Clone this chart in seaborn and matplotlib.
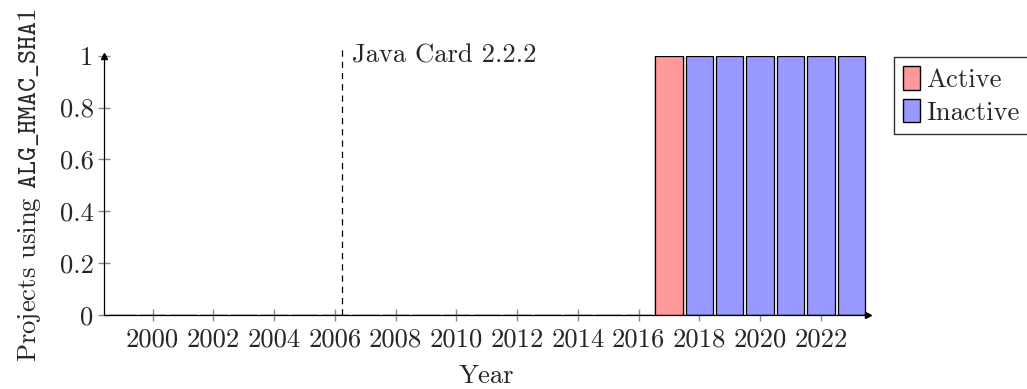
import matplotlib.pyplot as plt
import seaborn as sns
import pandas as pd
from matplotlib.patches import Patch

# Data
years = list(range(1999, 2024))
active = [0] * 18 + [1, 0, 0, 0, 0, 0, 0]
inactive = [0] * 18 + [0, 1, 1, 1, 1, 1, 1]
xticks = list(range(2000, 2024, 2))
release_year = 2006.25
release_label = "Java Card 2.2.2"

df = pd.DataFrame({"year": years, "active": active, "inactive": inactive})
df["total"] = df["active"] + df["inactive"]

sns.set_style("white")
plt.rcParams["font.family"] = "serif"
plt.rcParams["font.serif"] = ["cmr10"]
plt.rcParams["mathtext.fontset"] = "cm"
plt.rcParams["axes.formatter.use_mathtext"] = True

fs = 19.2
red = "#ff9999"
blue = "#9999ff"

fig = plt.figure(figsize=(10.27, 3.89), dpi=100)
ax = fig.add_axes([104 / 1027, 1 - 315 / 389, (868 - 104) / 1027, (315 - 55.7) / 389])

# stacked bars: total (inactive colour) underneath, active drawn over it from the bottom
sns.barplot(data=df, x="year", y="total", native_scale=True, width=0.9, color=blue,
            saturation=1, edgecolor="black", linewidth=0.9, ax=ax, errorbar=None)
sns.barplot(data=df, x="year", y="active", native_scale=True, width=0.9, color=red,
            saturation=1, edgecolor="black", linewidth=0.9, ax=ax, errorbar=None)

ax.set_xlim(1998.4, 2023.55)
ax.set_ylim(0, 1)
ax.set_xticks(xticks)
ax.set_xticklabels([str(t) for t in xticks], fontsize=fs)
ax.set_yticks([0, 0.2, 0.4, 0.6, 0.8, 1])
ax.set_yticklabels(["0", "0.2", "0.4", "0.6", "0.8", "1"], fontsize=fs)
ax.tick_params(bottom=True, left=True, direction="inout", length=9, width=1.0,
               color="#8a8a8a", pad=3)
ax.tick_params(axis="x", pad=5)
for side in ["top", "right"]:
    ax.spines[side].set_visible(False)
for side in ["left", "bottom"]:
    ax.spines[side].set_color("black")
    ax.spines[side].set_linewidth(0.9)
    ax.spines[side].set_zorder(3)

# axis arrows
ax.plot(1, 0, ">k", transform=ax.transAxes, clip_on=False, markersize=5)
ax.plot(0, 1, "^k", transform=ax.transAxes, clip_on=False, markersize=5)

ax.set_xlabel("Year", fontsize=fs, labelpad=9)
ax.set_ylabel(r"Projects using $\mathtt{ALG\_HMAC\_SHA1}$", fontsize=fs, labelpad=12)

ax.axvline(release_year, ymin=0, ymax=1.03, color="black", linestyle=(0, (5, 4)),
           linewidth=0.9, clip_on=False)
ax.text(release_year + 0.3, 1.0, release_label, fontsize=fs, va="center", ha="left")

handles = [Patch(facecolor=red, edgecolor="black", label="Active"),
           Patch(facecolor=blue, edgecolor="black", label="Inactive")]
fig.legend(handles=handles, loc="upper left", bbox_to_anchor=(894 / 1027, 1 - 56.5 / 389),
           fontsize=fs, frameon=True, fancybox=False, edgecolor="black",
           handlelength=0.62, handleheight=1.0, handletextpad=0.25, borderpad=0.35,
           labelspacing=0.25, borderaxespad=0)

fig.savefig("out.png", dpi=100)
